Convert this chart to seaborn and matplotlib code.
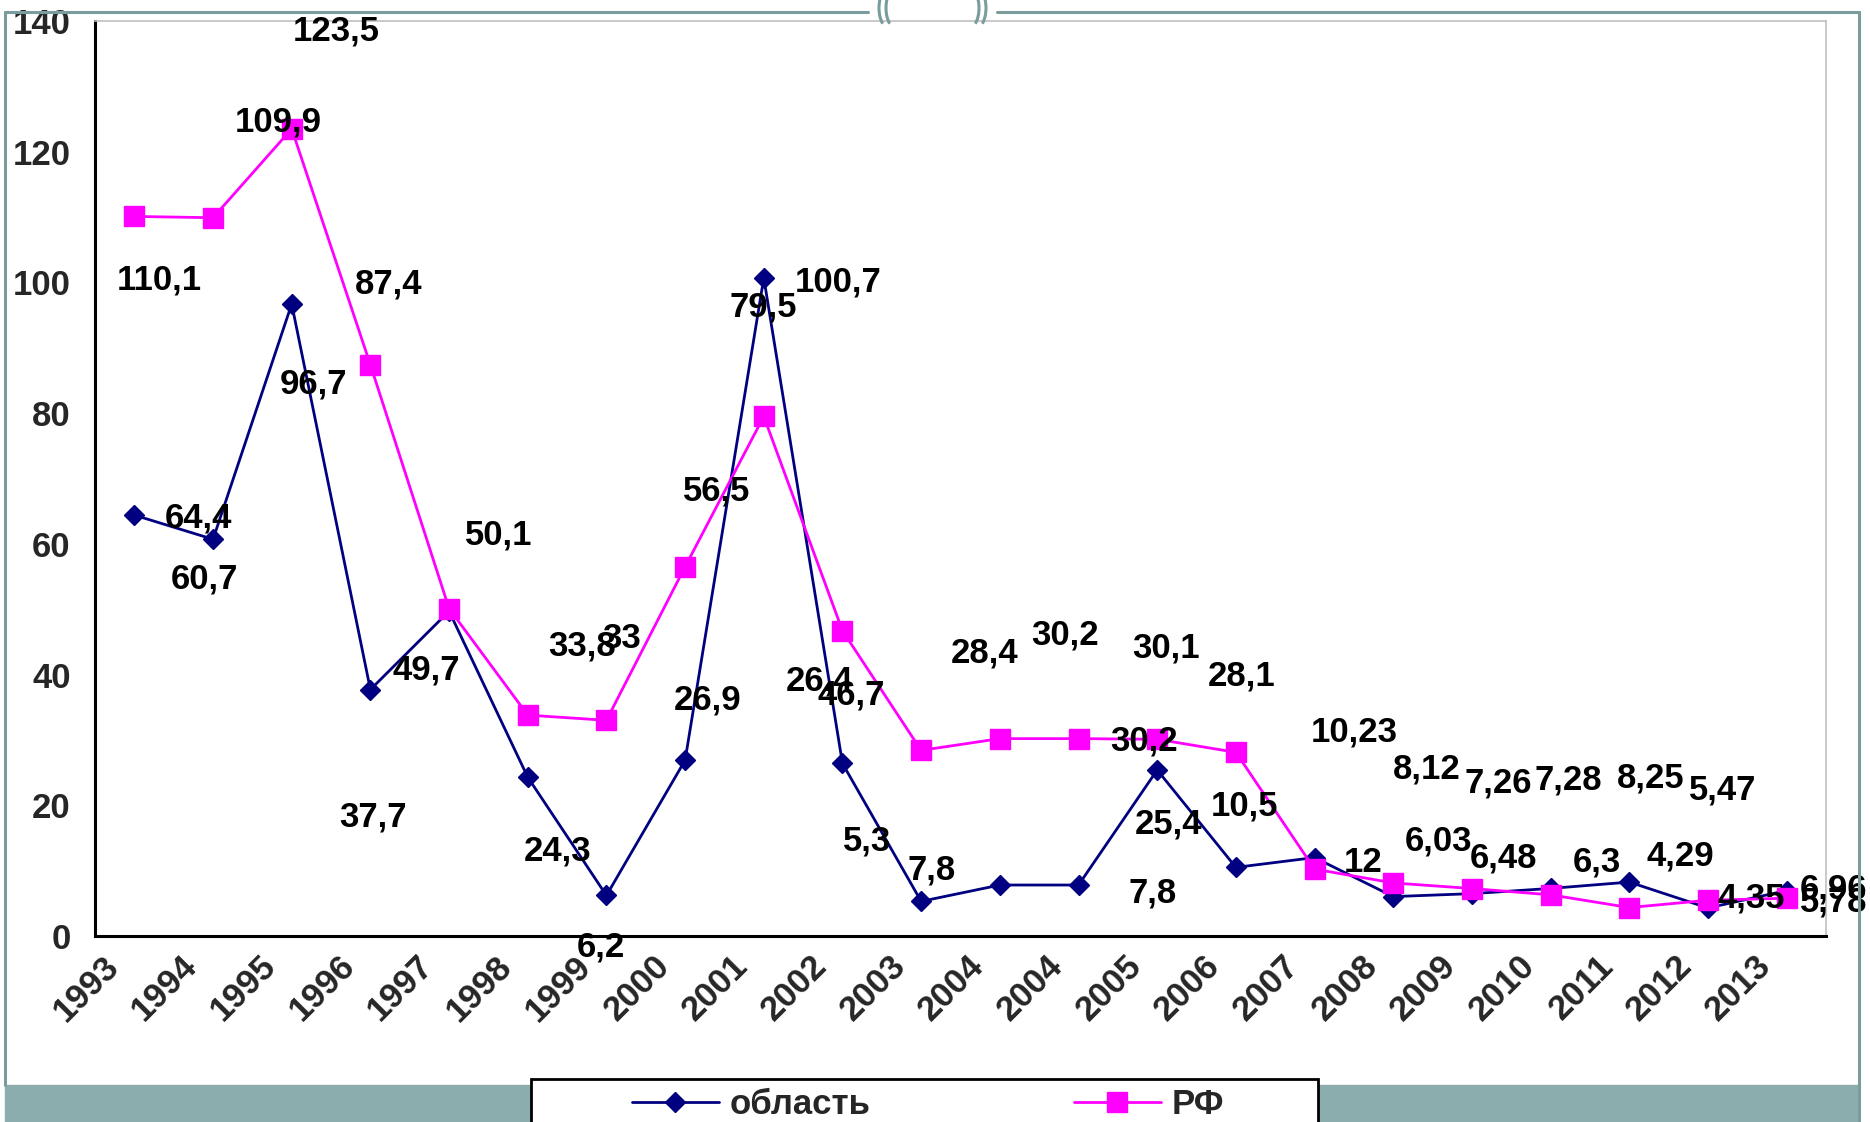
import numpy as np
import pandas as pd
import seaborn as sns
import matplotlib.pyplot as plt
from matplotlib.patches import Rectangle, Arc
from matplotlib.lines import Line2D
from matplotlib.transforms import ScaledTranslation

# годы (2004 в исходной таблице повторяется дважды)
years = ["1993", "1994", "1995", "1996", "1997", "1998", "1999", "2000", "2001", "2002",
         "2003", "2004", "2004", "2005", "2006", "2007", "2008", "2009", "2010", "2011",
         "2012", "2013"]
oblast = [64.4, 60.7, 96.7, 37.7, 49.7, 24.3, 6.2, 26.9, 100.7, 26.4, 5.3,
          7.8, 7.8, 25.4, 10.5, 12, 6.03, 6.48, 7.28, 8.25, 4.29, 6.96]
rf = [110.1, 109.9, 123.5, 87.4, 50.1, 33.8, 33, 56.5, 79.5, 46.7, 28.4,
      30.2, 30.2, 30.1, 28.1, 10.23, 8.12, 7.26, 6.3, 4.35, 5.47, 5.78]

# смещения подписей данных (в пикселях: вправо, вниз) - как их разбросал Excel
off_oblast = [(64, 3), (-9, 40), (22, 80), (3, 127), (-23, 59), (30, 74), (-6, 52),
              (22, -60), (74, 4), (-23, -82), (-54, -60), (-68, -15), (74, 8), (11, 54),
              (9, -61), (49, 5), (45, -56), (32, -36), (18, -108), (21, -104), (-28, -52),
              (47, -2)]
off_rf = [(25, 64), (65, -96), (45, -98), (18, -81), (50, -74), (54, -69), (15, -82),
          (32, -76), (-1, -109), (9, 64), (63, -97), (65, -104), (65, 2), (9, -91),
          (6, -76), (40, -137), (33, -114), (26, -106), (46, -33), (122, -10), (15, -110),
          (47, 4)]

navy = "#000080"
pink = "#FF00FF"
teal = "#7A9C9C"
band = "#8BADAD"
fs = 25

df = pd.DataFrame({"pos": np.arange(len(years)), "year": years,
                   "oblast": oblast, "rf": rf})

sns.set_style("white")
plt.rcParams["font.family"] = ["Liberation Sans", "DejaVu Sans"]

W, H = 1870, 1122
fig = plt.figure(figsize=(W / 100, H / 100), dpi=100)
ax = fig.add_axes([95 / W, 1 - 936 / H, (1826 - 95) / W, (936 - 21) / H])

sns.lineplot(data=df, x="pos", y="oblast", ax=ax, color=navy, linewidth=2,
             marker="D", markersize=10.5, markeredgecolor=navy, markeredgewidth=1,
             label="область", legend=False)
sns.lineplot(data=df, x="pos", y="rf", ax=ax, color=pink, linewidth=2,
             marker="s", markersize=15, markeredgecolor=pink, markeredgewidth=1,
             label="РФ", legend=False)

# подписи значений
def fmt(v):
    return f"{v:g}".replace(".", ",")

for vals, offs in [(oblast, off_oblast), (rf, off_rf)]:
    for i, v in enumerate(vals):
        dx, dy = offs[i]
        ax.annotate(fmt(v), (i, v), xytext=(dx, -dy), textcoords="offset pixels",
                    ha="center", va="center", fontsize=fs, fontweight="bold",
                    color="black", annotation_clip=False)

# оси
ax.set_xlim(-0.5, len(years) - 0.5)
ax.set_ylim(0, 140)
ax.set_yticks(range(0, 141, 20))
ax.set_xticks(np.arange(-0.5, len(years), 1.0))
ax.set_xticklabels([])
ax.set_xticks(np.arange(len(years)), minor=True)
ax.set_xticklabels(years, minor=True, rotation=45, ha="right", va="center",
                   rotation_mode="anchor", fontsize=fs, fontweight="bold")
ax.tick_params(axis="x", which="major", direction="out", length=6.5, width=2, color="black")
ax.tick_params(axis="x", which="minor", length=0, pad=18)
ax.tick_params(axis="y", direction="out", length=6.5, width=2, color="black", pad=11,
               labelsize=fs)
for lab in ax.get_yticklabels():
    lab.set_fontweight("bold")
shift = ScaledTranslation(-21 / 100, 0, fig.dpi_scale_trans)
for lab in ax.get_xticklabels(minor=True):
    lab.set_transform(lab.get_transform() + shift)

ax.set_xlabel("")
ax.set_ylabel("")
ax.grid(False)
for s in ["left", "bottom"]:
    ax.spines[s].set_color("black")
    ax.spines[s].set_linewidth(2.2)
for s in ["top", "right"]:
    ax.spines[s].set_color("#C0C0C0")
    ax.spines[s].set_linewidth(1.2)

# оформление слайда
fig.patches.append(Rectangle((5 / W, 0), (1859 - 5) / W, (H - 1085) / H,
                             transform=fig.transFigure, color=band, zorder=0))
fig.lines.append(Line2D([5 / W, 5 / W], [1 - 12 / H, 1 - 1085 / H], transform=fig.transFigure,
                        color=teal, linewidth=2.2))
fig.lines.append(Line2D([1859 / W, 1859 / W], [1 - 12 / H, 0], transform=fig.transFigure,
                        color=teal, linewidth=2.2))
fig.lines.append(Line2D([5 / W, 868 / W], [1 - 12 / H, 1 - 12 / H], transform=fig.transFigure,
                        color=teal, linewidth=2.2))
fig.lines.append(Line2D([997 / W, 1859 / W], [1 - 12 / H, 1 - 12 / H], transform=fig.transFigure,
                        color=teal, linewidth=2.2))
# скобки-орнамент сверху по центру
for cx, t1, t2 in [(890, 115, 245), (897, 115, 245), (968, -65, 65), (975, -65, 65)]:
    fig.patches.append(Arc((cx / 100, (H - 8) / 100), 0.22, 0.42, theta1=t1, theta2=t2,
                           transform=fig.dpi_scale_trans, color=teal, linewidth=2.2))

# легенда внизу
fig.patches.append(Rectangle((531 / W, -0.02), (1318 - 531) / W, 0.02 + (H - 1079) / H,
                             transform=fig.transFigure, facecolor="white",
                             edgecolor="black", linewidth=2, zorder=1))
handles, labels = ax.get_legend_handles_labels()
leg = fig.legend(handles, labels, loc="center left",
                 bbox_to_anchor=(632 / W, 1 - 1105 / H), frameon=False, ncol=2,
                 borderpad=0, borderaxespad=0, handlelength=2.5, handletextpad=0.32,
                 columnspacing=5.85, prop={"size": fs, "weight": "bold"})
leg.set_zorder(3)

fig.savefig("out.png", dpi=100)
